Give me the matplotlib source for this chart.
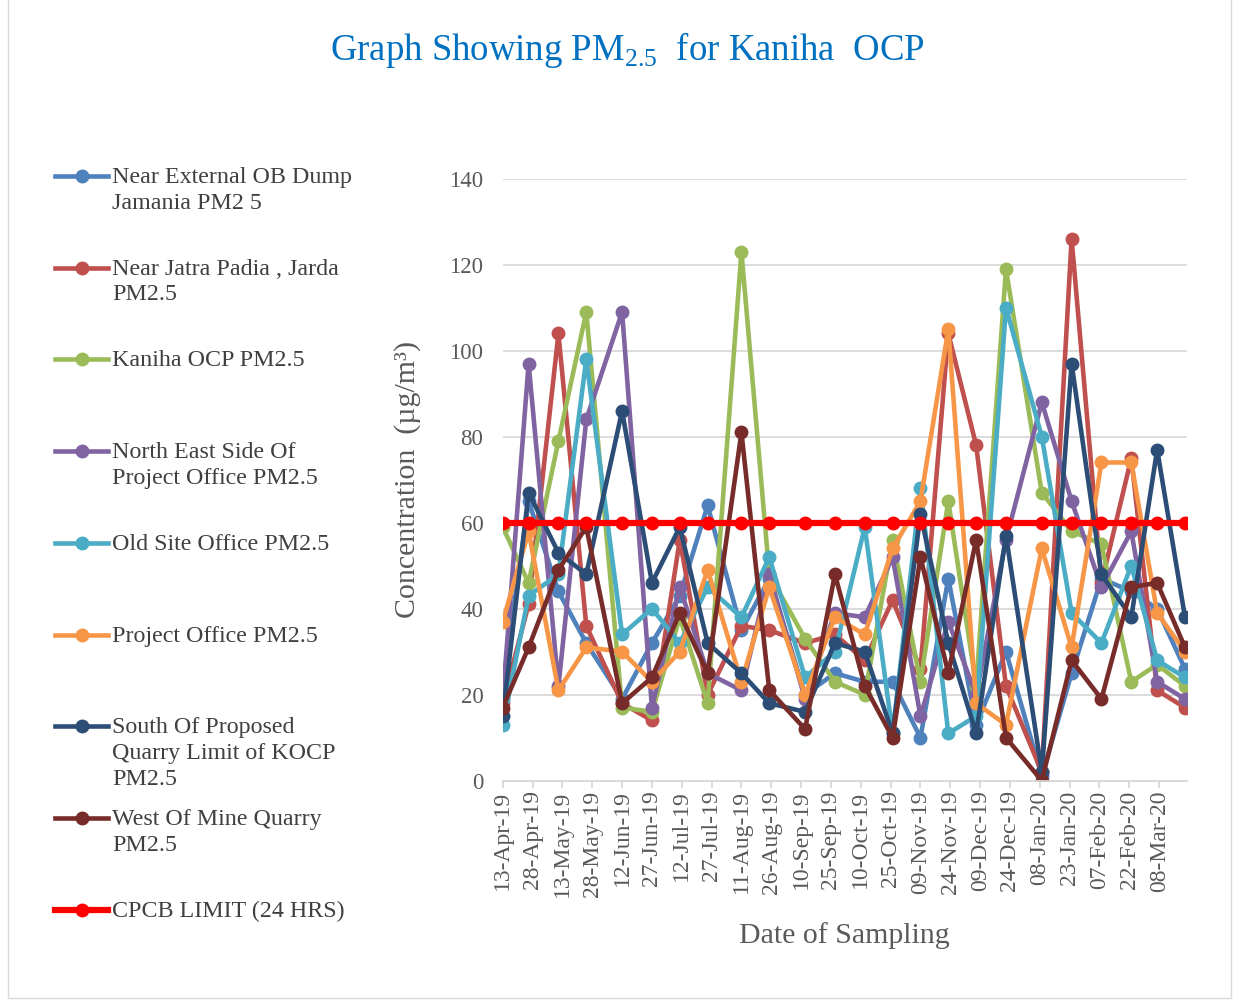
import pandas as pd
import matplotlib
matplotlib.use('Agg')
import matplotlib.pyplot as plt
import matplotlib.dates as mdates
from matplotlib.lines import Line2D
from matplotlib.patches import Rectangle

plt.rcParams['font.family'] = ['Liberation Serif', 'DejaVu Serif']
plt.rcParams['mathtext.fontset'] = 'custom'
plt.rcParams['mathtext.rm'] = 'Liberation Serif'

# sampling dates
dates = pd.to_datetime([
    '2019-04-13', '2019-04-26', '2019-05-11', '2019-05-25', '2019-06-12', '2019-06-27',
    '2019-07-11', '2019-07-25', '2019-08-11', '2019-08-25', '2019-09-12', '2019-09-27',
    '2019-10-12', '2019-10-26', '2019-11-09', '2019-11-23', '2019-12-07', '2019-12-22',
    '2020-01-09', '2020-01-24', '2020-02-08', '2020-02-23', '2020-03-07', '2020-03-21'])

ob_dump = [22, 65, 44, 32, 19, 32, 43, 64, 35, 47, 20, 25, 23, 23, 10, 47, 13, 30, 1, 25, 47, 44, 40, 26]
jatra_padia = [18, 41, 104, 36, 18, 14, 56, 20, 36, 35, 32, 34, 28, 42, 26, 104, 78, 22, 2, 126, 46, 75, 21, 17]
kaniha_ocp = [59, 46, 79, 109, 17, 16, 38, 18, 123, 48, 33, 23, 20, 56, 23, 65, 22, 119, 67, 58, 55, 23, 27, 22]
ne_project_office = [19, 97, 22, 84, 109, 17, 45, 25, 21, 48, 19, 39, 38, 52, 15, 37, 20, 56, 88, 65, 45, 58, 23, 19]
old_site_office = [13, 43, 48, 98, 34, 40, 32, 45, 38, 52, 24, 30, 59, 11, 68, 11, 15, 110, 80, 39, 32, 50, 28, 24]
project_office = [37, 58, 21, 31, 30, 23, 30, 49, 23, 45, 20, 38, 34, 54, 65, 105, 18, 13, 54, 31, 74, 74, 39, 30]
south_quarry = [15, 67, 53, 48, 86, 46, 59, 32, 25, 18, 16, 32, 30, 11, 62, 32, 11, 57, 2, 97, 48, 38, 77, 38]
west_mine = [17, 31, 49, 59, 18, 24, 39, 25, 81, 21, 12, 48, 22, 10, 52, 25, 56, 10, 0, 28, 19, 45, 46, 31]
cpcb_limit = [60] * len(dates)

labels = ['Near External OB Dump\nJamania PM2 5',
          'Near Jatra Padia , Jarda\nPM2.5',
          'Kaniha OCP PM2.5',
          'North East Side Of\nProject Office PM2.5',
          'Old Site Office PM2.5',
          'Project Office PM2.5',
          'South Of Proposed\nQuarry Limit of KOCP\nPM2.5',
          'West Of Mine Quarry\nPM2.5',
          'CPCB LIMIT (24 HRS)']
series = [ob_dump, jatra_padia, kaniha_ocp, ne_project_office, old_site_office,
          project_office, south_quarry, west_mine, cpcb_limit]
colors = ['#4F81BD', '#C0504D', '#9BBB59', '#8064A2', '#4BACC6',
          '#F79646', '#2C4D75', '#772C2A', '#FF0000']

fig = plt.figure(figsize=(12.38, 10.01), dpi=100)
ax = fig.add_axes([0.4061, 0.2201, 0.5527, 0.6014])

for vals, c, lab in zip(series, colors, labels):
    lw = 4.5 if c == '#FF0000' else 3.3
    ax.plot(dates, vals, color=c, lw=lw, marker='o', ms=9, label=lab)

ax.set_ylim(0, 140)
ax.set_yticks(range(0, 141, 20))
ax.set_xlim(pd.Timestamp('2019-04-13'), pd.Timestamp('2020-03-22'))
ax.set_xticks(pd.date_range('2019-04-13', periods=23, freq='15D'))
ax.xaxis.set_major_formatter(mdates.DateFormatter('%d-%b-%y'))

ax.grid(axis='y', color='#D9D9D9', lw=1.3)
ax.set_axisbelow(True)
for s in ['left', 'right', 'top']:
    ax.spines[s].set_visible(False)
ax.spines['bottom'].set_color('#D9D9D9')
ax.spines['bottom'].set_linewidth(1.3)
ax.tick_params(axis='y', length=0, pad=14, labelsize=16.5, labelcolor='#595959')
ax.tick_params(axis='x', length=5, width=1.3, color='#D9D9D9', pad=2,
               labelsize=17, labelcolor='#595959', labelrotation=90)

ax.set_xlabel('Date of Sampling', fontsize=21.5, color='#595959', labelpad=18)
ax.set_ylabel('Concentration  (µg/m³)', fontsize=21.5, color='#595959', labelpad=20)

fig.text(0.507, 1 - 50 / 1001, r'Graph Showing PM$_{\mathregular{2.5}}$  for Kaniha  OCP',
         ha='center', va='center', fontsize=26.5, color='#0070C0')

# legend on the left, handles aligned with the first line of each label
y0 = 1 - 176 / 1001
step = 91.7 / 1001
for i, (c, lab) in enumerate(zip(colors, labels)):
    y = y0 - i * step
    lw = 4.5 if c == '#FF0000' else 3.3
    fig.add_artist(Line2D([55 / 1238, 108 / 1238], [y, y], color=c, lw=lw,
                          transform=fig.transFigure))
    fig.add_artist(Line2D([81.5 / 1238], [y], color=c, marker='o', ms=9, lw=0,
                          transform=fig.transFigure))
    fig.text(112 / 1238, y + 9 / 1001, lab, ha='left', va='top', fontsize=17.3,
             color='#404040', linespacing=1.3)

fig.add_artist(Rectangle((8 / 1238, 3 / 1001), 1223 / 1238, 1.0, fill=False,
                         edgecolor='#D9D9D9', lw=1, transform=fig.transFigure))

fig.savefig('out.png', dpi=100)
